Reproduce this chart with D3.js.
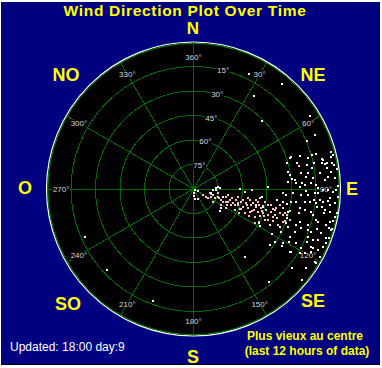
<!DOCTYPE html>
<html>
<head>
<meta charset="utf-8">
<script src="https://cdn.jsdelivr.net/npm/d3@7"></script>
<style>
html,body{margin:0;padding:0;background:#fff;}
svg{display:block;}
</style>
</head>
<body>
<div id="chart"></div>
<script>
// ---------- DATA ----------
const title = "Wind Direction Plot Over Time";
const compassNames = ["N","NE","E","SE","S","SO","O","NO"];
const compassAngles = [0,45,90,135,180,225,270,315];
const spokeAngles = [0,30,60,90,120,150,180,210,240,270,300,330];
const spokeLabels = ["360°","30°","60°","90°","120°","150°","180°","210°","240°","270°","300°","330°"];
const ringHours = [2,4,6,8,10];
const ringLabels = ["75°","60°","45°","30°","15°"];
const noteLines = ["Plus vieux au centre","(last 12 hours of data)"];
const updatedText = "Updated: 18:00 day:9";

// recent readings (white): direction in degrees, hours from the oldest reading (centre)
const whiteDir = [26,40,33,45,58,66,67,72,246,227,200,143,141,130,129,121,123,120,
 72.8,74.9,74.1,78.6,79.2,79,74.9,76.9,77.9,80.2,79.8,81.8,84.2,81.5,83.9,82,84.7,82.8,84.9,85.6,
 85.8,86.6,87.9,87.1,89.5,90.4,90.4,91.2,90.4,93.7,92.3,93.2,93,91.9,98.3,97.3,96.6,94.9,93.7,
 97.7,96.4,96.5,95.7,96.7,95.7,103.7,102.9,100.6,102.3,100.5,99.6,101.2,107.2,107.5,104.8,105.2,106.6,
 109.9,110.1,109,111.9,116.2,112.7,112.3,110.3,123,121.1,117.8,118.8,116.3,116.1,123.1,119.9,118.3,126.2,121,
 81.1,79.4,76.3,77.4,78.1,84.9,88.9,88.5,96.7,104.1,104.5,97.5,107.2,119.1,115.2,113.7,109.2,109.9,116.4,
 113.1,116.3,114.1,110,106,103.6,99.1,99.5,98.3,85.3,92.7,102.2,105.2,
 124,173,176,171,156,114,87.5,87.8,92.9,90,124.6,129.7,117.8,74.5,71.8,75.9,74,
 88,86,83,92,95,98,101,104,106,108,112,115,118,121,125,113,100,95,91,87,80,77,82,93,89,103,119,123,110,99];
const whiteHour = [10.4,11.2,9.1,7.9,11.2,10.9,10.1,8.3,9.7,9.7,9.7,7.0,9.8,11.6,10.3,11.7,8.6,7.4,
 9.1,9.7,10.4,10.7,10.9,11.1,11.6,11.5,10.1,11.6,7.8,8.0,8.1,8.9,9.2,9.4,9.8,10.4,11.0,11.6,
 7.7,8.4,9.1,9.6,10.2,10.6,11.0,11.4,11.6,7.6,8.1,8.8,9.4,9.9,7.4,8.4,9.2,10.4,11.2,
 8.0,9.6,10.1,10.6,11.2,11.6,7.9,8.8,9.3,10.0,10.8,11.3,11.8,9.1,9.8,10.5,11.2,11.7,
 9.3,10.2,11.0,8.3,8.0,10.1,11.0,11.5,7.9,8.5,9.5,10.0,10.7,11.3,9.4,10.5,11.7,7.7,11.6,
 11.0,11.5,11.7,10.8,9.5,8.3,8.7,6.1,5.6,5.3,5.9,6.9,8.0,6.2,6.9,7.7,8.9,9.9,8.8,
 10.6,10.9,11.6,11.8,11.8,11.5,10.9,11.9,10.2,2.0,1.8,1.5,2.5,
 0.15,0.3,0.6,0.8,0.9,0.4,1.8,2.2,1.6,3.8,2.7,2.8,6.0,7.9,8.4,8.7,10.1,
 10.0,10.8,11.3,10.2,11.0,10.6,9.8,10.3,11.5,10.6,11.7,10.2,10.9,10.1,11.2,9.0,8.8,9.9,9.2,8.9,9.8,10.8,11.8,11.8,11.8,11.7,8.9,9.5,8.0,7.7];

// older readings (pink)
const pinkDir = [122.6,121.8,114.6,112.7,108.1,111.8,104.2,110.6,103.5,109.5,104.5,109.8,105.3,110,104.9,109.2,
 105.5,109.4,106.1,109.6,105.7,109.1,106.2,109.2,106.5,109.4,120.3,120.2,116.8,115,114.5,113.4,123.7,
 103.6,99.3,99.9,100.2,99.4,100,100.3,101.7,102,105.5,109.2,105.5,107.8,110.2,91,93.3,101.4,77.7,92.6,103,100.5,
 122,106.3,113.8,113.7,113.3,112.1,112.1,102.5,103.2,103.7,104.4,104.7,112.6,
 107,110,106,112,107,111,107,113,107,111,104,108,111,104,108,112,106,109,103,113,116,117,101,102,98,115,118,119];
const pinkHour = [1.2,1.4,1.6,1.9,2.1,2.4,2.7,3.0,3.2,3.4,3.6,3.9,4.0,4.3,4.4,4.7,
 4.9,5.2,5.3,5.6,5.7,6.0,6.2,6.4,6.6,6.9,3.1,2.6,3.8,4.6,5.5,6.4,1.9,
 1.4,2.0,2.9,3.7,4.5,5.2,5.9,6.5,7.5,7.3,7.2,7.9,8.3,7.8,4.8,4.2,5.4,8.8,7.3,6.9,7.2,
 0.9,1.7,2.6,3.3,4.1,5.0,5.9,4.1,5.0,5.8,6.9,7.7,6.6,
 1.5,2.2,2.5,2.9,3.1,3.6,3.8,4.2,4.6,5.1,5.5,5.9,6.2,6.7,7.0,7.0,7.6,7.9,8.1,7.5,5.0,6.0,4.7,6.2,5.5,3.0,4.2,5.7];

// ---------- LAYOUT ----------
const W = 382, H = 368;
const cx = 193.5, cy = 189, R = 147;
const FONT = "'Liberation Sans', Arial, sans-serif";

const svg = d3.select("#chart").append("svg").attr("width", W).attr("height", H);

// frame
svg.append("rect").attr("x",0).attr("y",0).attr("width",W).attr("height",H).attr("fill","#ffffff");
svg.append("rect").attr("x",1).attr("y",2).attr("width",W-3).attr("height",H-5).attr("fill","#000000");
svg.append("rect").attr("x",1).attr("y",2).attr("width",W-4).attr("height",H-6).attr("fill","#000080");

const r = d3.scaleLinear().domain([0,12]).range([0,R]);
const ang = d3.scaleLinear().domain([0,360]).range([0,2*Math.PI]);
const px = (deg, rad) => cx + rad*Math.sin(ang(deg));
const py = (deg, rad) => cy - rad*Math.cos(ang(deg));

// plot disc
svg.append("circle").attr("cx",cx).attr("cy",cy).attr("r",R).attr("fill","#000").attr("stroke","#ffffff").attr("stroke-width",1.2);
svg.append("circle").attr("cx",cx).attr("cy",cy).attr("r",R-1.3).attr("fill","none").attr("stroke","#009000").attr("stroke-width",1);

const grid = svg.append("g").attr("stroke","#006800").attr("fill","none").attr("stroke-width",1)
  .attr("shape-rendering","crispEdges");
grid.selectAll("circle").data(ringHours).join("circle")
  .attr("cx",cx).attr("cy",cy).attr("r",d=>r(d));
grid.selectAll("line").data(spokeAngles).join("line")
  .attr("x1",cx).attr("y1",cy)
  .attr("x2",d=>px(d,R-1.5)).attr("y2",d=>py(d,R-1.5));

// small labels
function smallLabel(x,y,txt){
  const g = svg.append("g");
  const t = g.append("text").attr("x",x).attr("y",y+3)
    .attr("text-anchor","middle").attr("font-family",FONT).attr("font-size","8px")
    .attr("fill","#d8d8d8").text(txt);
  const bb = t.node().getBBox();
  g.insert("rect","text").attr("x",bb.x-0.5).attr("y",bb.y+1).attr("width",bb.width+1).attr("height",bb.height-2).attr("fill","#000");
}
spokeAngles.forEach((a,i)=> smallLabel(px(a,r(10.8)), py(a,r(10.8)), spokeLabels[i]));
ringHours.forEach((h,i)=> smallLabel(px(14,r(h)), py(14,r(h)), ringLabels[i]));

// points
svg.append("g").selectAll("rect").data(pinkDir.map((d,i)=>[d,pinkHour[i]])).join("rect")
  .attr("x",d=>Math.round(px(d[0],r(d[1])))-1).attr("y",d=>Math.round(py(d[0],r(d[1])))-1)
  .attr("width",2).attr("height",2).attr("fill","#ffc0cb");
svg.append("g").selectAll("rect").data(whiteDir.map((d,i)=>[d,whiteHour[i]])).join("rect")
  .attr("x",d=>Math.round(px(d[0],r(d[1])))-1).attr("y",d=>Math.round(py(d[0],r(d[1])))-1)
  .attr("width",2).attr("height",2).attr("fill","#ffffff");

// compass labels
const compassPos = {N:[193,34],NE:[313,81],E:[352,195],SE:[313,307],S:[193,363],SO:[68,310],O:[25,194],NO:[66,81]};
svg.append("g").selectAll("text").data(compassNames).join("text")
  .attr("x",d=>compassPos[d][0]).attr("y",d=>compassPos[d][1])
  .attr("text-anchor","middle").attr("font-family",FONT).attr("font-weight","bold")
  .attr("font-size",d=> d==="N" ? "17px" : "18px").attr("fill","#ffff00").text(d=>d);

// title
svg.append("text").attr("x",185).attr("y",16).attr("text-anchor","middle")
  .attr("font-family",FONT).attr("font-weight","bold").attr("font-size","15.5px")
  .attr("letter-spacing","0.7px")
  .attr("fill","#ffff00").text(title);

// notes
svg.append("g").selectAll("text").data(noteLines).join("text")
  .attr("x",(d,i)=> i===0 ? 305 : 307).attr("y",(d,i)=> 340 + i*15)
  .attr("text-anchor","middle").attr("font-family",FONT).attr("font-weight","bold")
  .attr("font-size","12px").attr("fill","#ffff00").text(d=>d);

svg.append("text").attr("x",10).attr("y",351).attr("font-family",FONT)
  .attr("font-size","12px").attr("fill","#ffffff").text(updatedText);
</script>
</body>
</html>
